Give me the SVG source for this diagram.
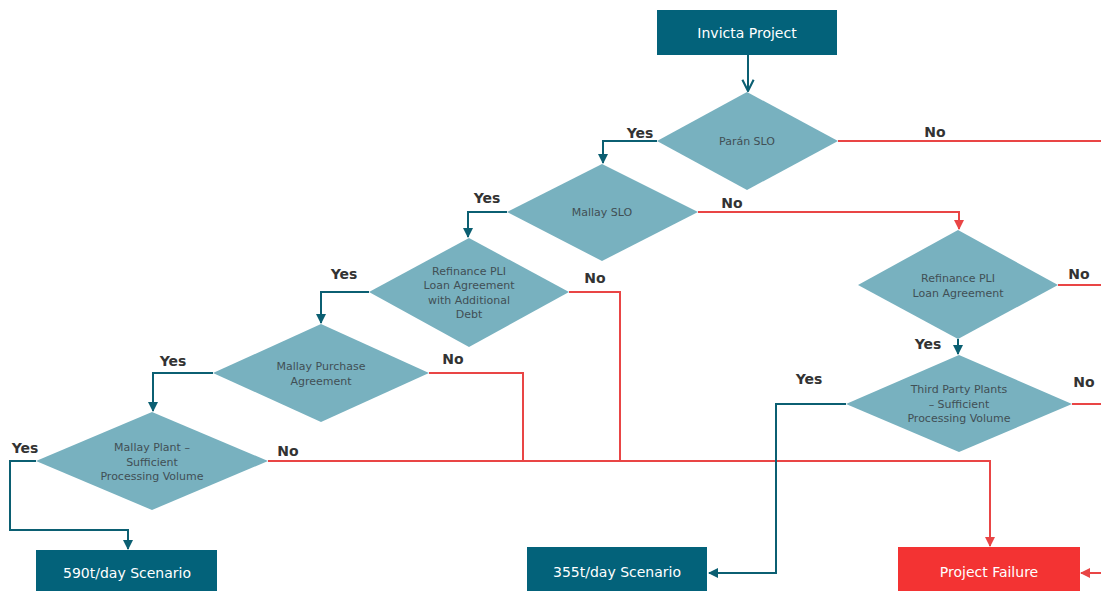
<svg xmlns="http://www.w3.org/2000/svg" width="1101" height="591" viewBox="0 0 1101 591">
<style>
.box{fill:#03627a}
.fail{fill:#f33333}
.dia{fill:#78b1bf}
.bt{font-family:"DejaVu Sans",Verdana,sans-serif;font-size:14px;fill:#ffffff;text-anchor:middle}
.dt{font-family:"DejaVu Sans",Verdana,sans-serif;font-size:11px;fill:#414f55;text-anchor:middle}
.lb{font-family:"DejaVu Sans",Verdana,sans-serif;font-size:14px;font-weight:bold;fill:#333333;text-anchor:middle}
.y{fill:none;stroke:#0b5f72;stroke-width:2}
.n{fill:none;stroke:#e94545;stroke-width:2}
</style>
<defs>
<marker id="at" viewBox="0 0 10 10" refX="9" refY="5" markerWidth="5" markerHeight="5" orient="auto" markerUnits="strokeWidth"><path d="M0,0 L10,5 L0,10 z" fill="#0b5f72"/></marker>
<marker id="av" viewBox="0 0 10 10" refX="9" refY="5" markerWidth="7" markerHeight="7" orient="auto" markerUnits="strokeWidth"><path d="M1,1 L9,5 L1,9" fill="none" stroke="#0b5f72" stroke-width="1.5"/></marker>
<marker id="ar" viewBox="0 0 10 10" refX="9" refY="5" markerWidth="5" markerHeight="5" orient="auto" markerUnits="strokeWidth"><path d="M0,0 L10,5 L0,10 z" fill="#e94545"/></marker>
</defs>
<g id="connectors">
<path class="y" d="M748,55 V91" marker-end="url(#av)"/>
<path class="n" d="M838,141 H1101"/>
<path class="y" d="M657,141 H603 V163" marker-end="url(#at)"/>
<path class="n" d="M698,212 H959 V229" marker-end="url(#ar)"/>
<path class="y" d="M507,212 H468 V237" marker-end="url(#at)"/>
<path class="n" d="M569,292 H620 V461"/>
<path class="y" d="M369,292 H321 V323" marker-end="url(#at)"/>
<path class="n" d="M429,373 H523 V461"/>
<path class="y" d="M213,373 H153 V411" marker-end="url(#at)"/>
<path class="n" d="M268,461 H990 V546" marker-end="url(#ar)"/>
<path class="y" d="M36,461 H10 V530 H128 V549" marker-end="url(#at)"/>
<path class="n" d="M1058,285 H1101"/>
<path class="y" d="M958,339 V354" marker-end="url(#at)"/>
<path class="n" d="M1072,404 H1101"/>
<path class="y" d="M846,404 H776 V573 H709" marker-end="url(#at)"/>
<path class="n" d="M1101,573 H1081" marker-end="url(#ar)"/>
<text class="lb" x="640" y="138">Yes</text>
<text class="lb" x="935" y="137">No</text>
<text class="lb" x="732" y="208">No</text>
<text class="lb" x="487" y="203">Yes</text>
<text class="lb" x="595" y="283">No</text>
<text class="lb" x="344" y="279">Yes</text>
<text class="lb" x="453" y="364">No</text>
<text class="lb" x="173" y="366">Yes</text>
<text class="lb" x="288" y="456">No</text>
<text class="lb" x="25" y="453">Yes</text>
<text class="lb" x="1079" y="279">No</text>
<text class="lb" x="928" y="349">Yes</text>
<text class="lb" x="1084" y="387">No</text>
<text class="lb" x="809" y="384">Yes</text>
</g>
<g id="invicta">
<rect class="box" x="657" y="10" width="180" height="45"/>
<text class="bt" x="747" y="38">Invicta Project</text>
</g>
<g id="paran">
<polygon class="dia" points="747,92 838,141 747,190 657,141"/>
<text class="dt" x="747" y="145">Parán SLO</text>
</g>
<g id="mallay-slo">
<polygon class="dia" points="602,164 698,212 602,261 507,212"/>
<text class="dt" x="602" y="216">Mallay SLO</text>
</g>
<g id="refinance-debt">
<polygon class="dia" points="469,238 569,292 469,347 369,292"/>
<text class="dt" x="469" y="275">Refinance PLI</text>
<text class="dt" x="469" y="289">Loan Agreement</text>
<text class="dt" x="469" y="304">with Additional</text>
<text class="dt" x="469" y="318">Debt</text>
</g>
<g id="mallay-purchase">
<polygon class="dia" points="321,324 429,373 321,422 213,373"/>
<text class="dt" x="321" y="370">Mallay Purchase</text>
<text class="dt" x="321" y="385">Agreement</text>
</g>
<g id="mallay-plant">
<polygon class="dia" points="152,412 268,461 152,510 36,461"/>
<text class="dt" x="152" y="451">Mallay Plant –</text>
<text class="dt" x="152" y="466">Sufficient</text>
<text class="dt" x="152" y="480">Processing Volume</text>
</g>
<g id="refinance">
<polygon class="dia" points="958,230 1058,285 958,339 858,285"/>
<text class="dt" x="958" y="282">Refinance PLI</text>
<text class="dt" x="958" y="297">Loan Agreement</text>
</g>
<g id="third-party">
<polygon class="dia" points="959,355 1072,404 959,452 846,404"/>
<text class="dt" x="959" y="393">Third Party Plants</text>
<text class="dt" x="959" y="408">– Sufficient</text>
<text class="dt" x="959" y="422">Processing Volume</text>
</g>
<g id="s590">
<rect class="box" x="36" y="550" width="181" height="41"/>
<text class="bt" x="127" y="578">590t/day Scenario</text>
</g>
<g id="s355">
<rect class="box" x="527" y="547" width="180" height="44"/>
<text class="bt" x="617" y="577">355t/day Scenario</text>
</g>
<g id="failure">
<rect class="fail" x="898" y="547" width="182" height="44"/>
<text class="bt" x="989" y="577">Project Failure</text>
</g>
</svg>
